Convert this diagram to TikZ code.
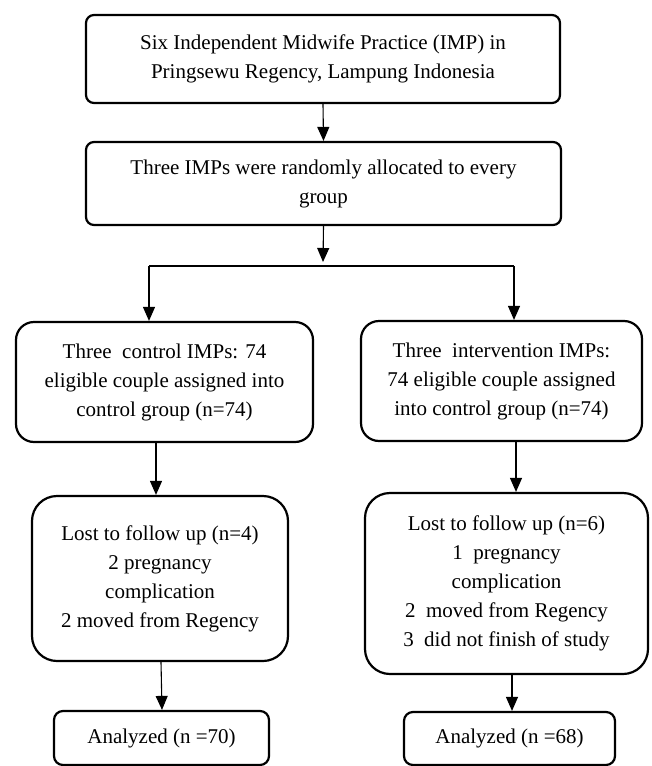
\documentclass[tikz,border=0pt]{standalone}
\usepackage{fontspec}
\setmainfont{Liberation Serif}
\usetikzlibrary{arrows.meta,calc}
\begin{document}
\begin{tikzpicture}[x=1pt,y=-1pt,
  box/.style={draw, line width=2.2pt, align=center, inner sep=0pt,
    font=\fontsize{21}{29}\selectfont},
  arr/.style={line width=1.1pt, -{Triangle[length=14pt,width=12pt]}},
  plain/.style={line width=1.1pt}]
\useasboundingbox (0,0) rectangle (652,766);
\node[box, rounded corners=8pt, minimum width=474pt, minimum height=88pt] (b1) at (323,59)
  {Six Independent Midwife Practice (IMP) in\\Pringsewu Regency, Lampung Indonesia};
\node[box, rounded corners=8pt, minimum width=475pt, minimum height=83pt] (b2) at (323.5,183.5)
  {Three IMPs were randomly allocated to every\\group};
\node[box, rounded corners=18pt, minimum width=297pt, minimum height=120pt] (ml) at (164.5,382)
  {Three~ control IMPs: 74\\eligible couple assigned into\\control group (n=74)};
\node[box, rounded corners=18pt, minimum width=281pt, minimum height=120pt] (mr) at (501.5,381)
  {Three~ intervention IMPs:\\74 eligible couple assigned\\into control group (n=74)};
\node[box, rounded corners=25pt, minimum width=256pt, minimum height=165pt] (ll) at (160,578.5)
  {Lost to follow up (n=4)\\2 pregnancy\\complication\\2 moved from Regency};
\node[box, rounded corners=25pt, minimum width=283pt, minimum height=181pt] (lr) at (506.5,583.5)
  {Lost to follow up (n=6)\\1~ pregnancy\\complication\\2~ moved from Regency\\3~ did not finish of study};
\node[box, rounded corners=9pt, minimum width=215pt, minimum height=54pt] (al) at (161.5,738)
  {Analyzed (n =70)};
\node[box, rounded corners=9pt, minimum width=211pt, minimum height=53pt] (ar) at (509.5,738.5)
  {Analyzed (n =68)};
\coordinate (j) at (323,266);
\coordinate (jl) at (149,266);
\coordinate (jr) at (514,266);
\draw[arr] (b1.south) -- (b2.north);
\draw[arr] (b2.south) -- ([yshift=4pt]j);
\draw[plain] (jl) -- (jr);
\draw[arr] (jl) -- (jl |- ml.north);
\draw[arr] (jr) -- (jr |- mr.north);
\draw[arr] ([xshift=-8.5pt]ml.south) -- ([xshift=-8.5pt]ml.south |- ll.north);
\draw[arr] ([xshift=14.5pt]mr.south) -- ([xshift=14.5pt]mr.south |- lr.north);
\draw[arr] ([xshift=1pt]ll.south) -- ([xshift=2pt]ll.south |- al.north);
\draw[arr] ([xshift=5.5pt]lr.south) -- ([xshift=5.5pt]lr.south |- ar.north);
\end{tikzpicture}
\end{document}
